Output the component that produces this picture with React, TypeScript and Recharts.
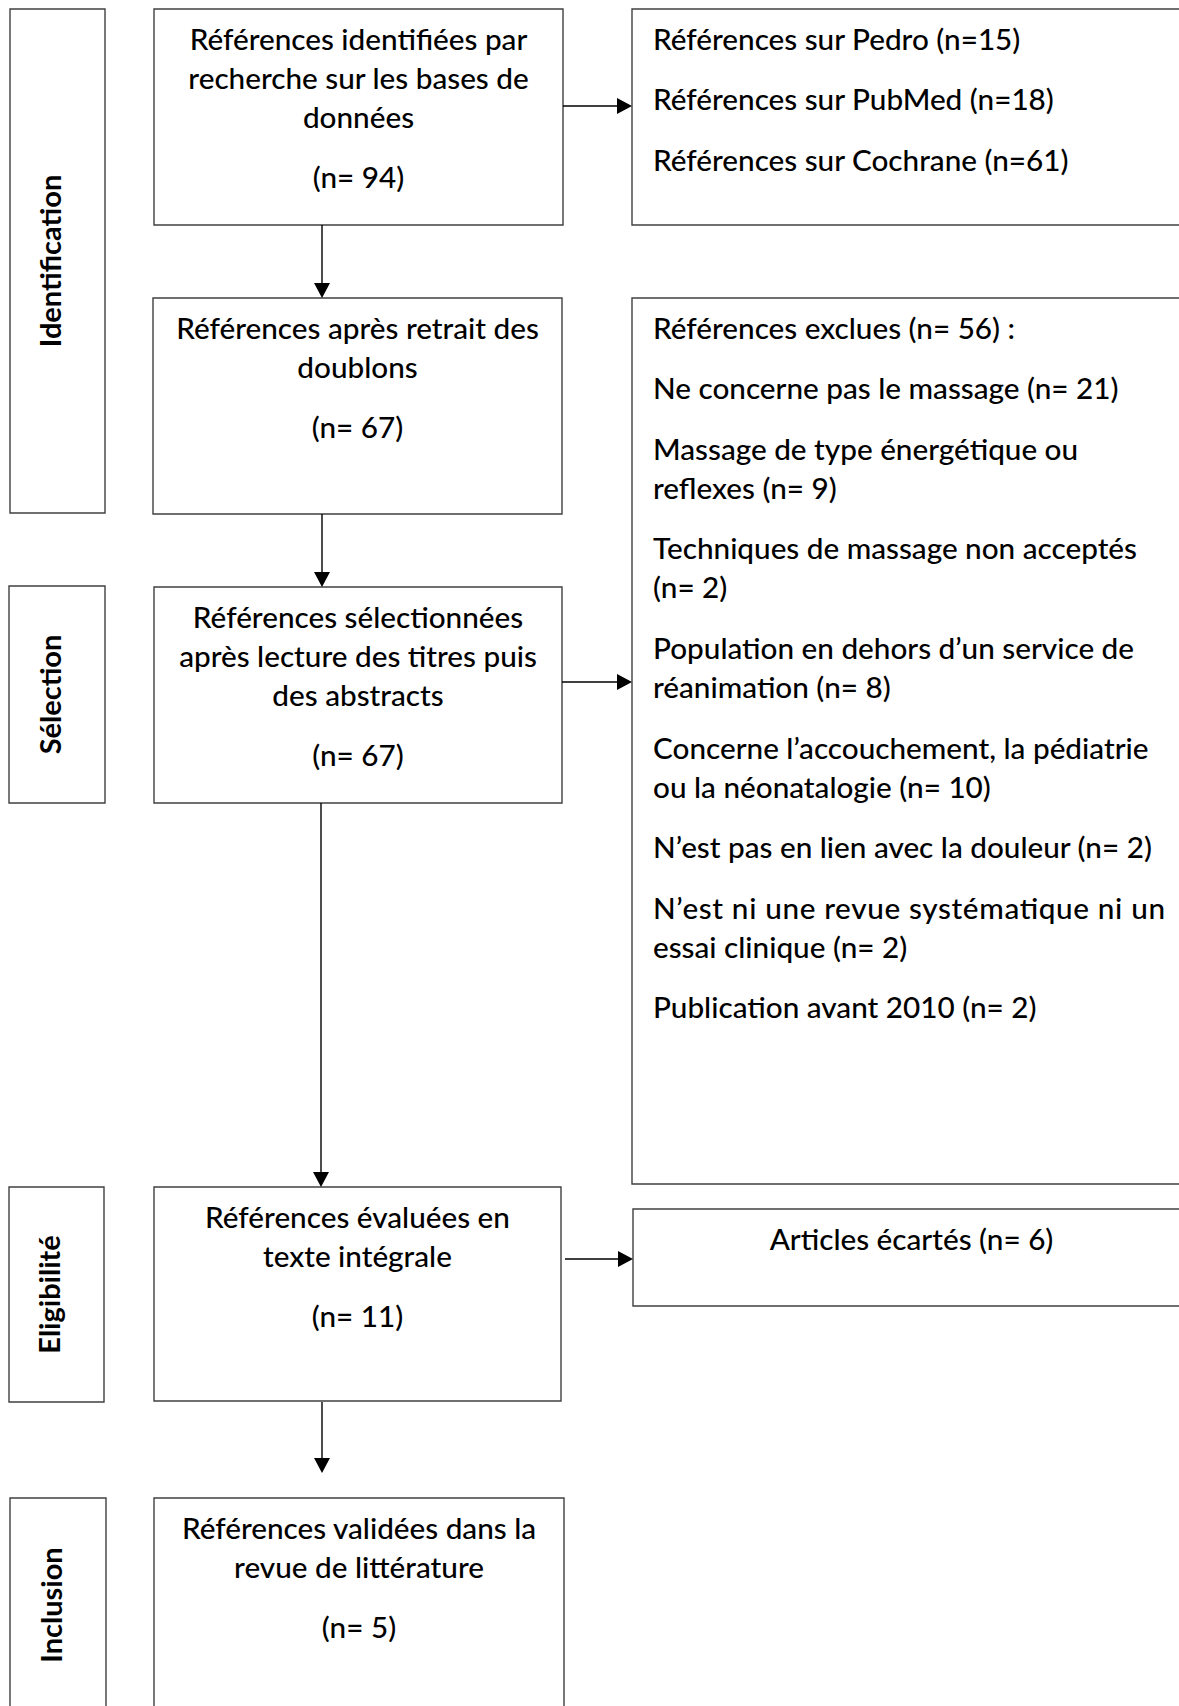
import React from "react";
import { ComposedChart, ReferenceArea, ReferenceLine, XAxis, YAxis } from "recharts";

const W = 1179;
const H = 1706;
const FONT = "Lato, 'Open Sans', sans-serif";

// stage labels on the left, top to bottom
const stages = ["Identification", "Sélection", "Eligibilité", "Inclusion"];

// main column: each box is a list of paragraphs, each paragraph a list of lines
const mainBoxes = [
  [["Références identifiées par", "recherche sur les bases de", "données"], ["(n= 94)"]],
  [["Références après retrait des", "doublons"], ["(n= 67)"]],
  [["Références sélectionnées", "après lecture des titres puis", "des abstracts"], ["(n= 67)"]],
  [["Références évaluées en", "texte intégrale"], ["(n= 11)"]],
  [["Références validées dans la", "revue de littérature"], ["(n= 5)"]],
];

// right column
const sources = [
  ["Références sur Pedro (n=15)"],
  ["Références sur PubMed (n=18)"],
  ["Références sur Cochrane (n=61)"],
];

const exclusions = [
  ["Références exclues (n= 56) :"],
  ["Ne concerne pas le massage (n= 21)"],
  ["Massage de type énergétique ou", "reflexes (n= 9)"],
  ["Techniques de massage non acceptés", "(n= 2)"],
  ["Population en dehors d’un service de", "réanimation (n= 8)"],
  ["Concerne l’accouchement, la pédiatrie", "ou la néonatalogie (n= 10)"],
  ["N’est pas en lien avec la douleur (n= 2)"],
  ["N’est ni une revue systématique ni un", "essai clinique (n= 2)"],
  ["Publication avant 2010 (n= 2)"],
];

const discarded = [["Articles écartés (n= 6)"]];

const sideBoxes = [sources, exclusions, discarded];

// geometry, in the 1179 x 1706 frame: [x1, x2, y1, y2]
const stageRects = [
  [10, 105, 9, 513],
  [9, 105, 586, 803],
  [9, 104, 1187, 1402],
  [10, 106, 1498, 1712],
];
const mainRects = [
  [154, 563, 9, 225],
  [153, 562, 298, 514],
  [154, 562, 587, 803],
  [154, 561, 1187, 1401],
  [154, 564, 1498, 1712],
];
const sideRects = [
  [632, 1190, 9, 225],
  [632, 1190, 298, 1184],
  [633, 1190, 1209, 1306],
];
const sideAlign = ["start", "start", "middle"];

// connectors: [xFrom, yFrom, xTo, yTo]
const arrows = [
  [563, 106, 632, 106],
  [322, 225, 322, 298],
  [322, 514, 322, 587],
  [562, 682, 632, 682],
  [321, 803, 321, 1187],
  [565, 1259, 633, 1259],
  [322, 1402, 322, 1473],
];

const STROKE = "#404040";
const FIRST = 29;
const LINE = 39;
const PARA_GAP = 21.6;
const PAD = 21;

function BoxText(props: any) {
  const { viewBox, paragraphs, align, justify } = props;
  if (!viewBox) return null;
  const { x, y, width } = viewBox;
  const tx = align === "middle" ? x + width / 2 : x + PAD;
  const out: JSX.Element[] = [];
  let off = FIRST;
  paragraphs.forEach((para: string[], pi: number) => {
    para.forEach((line: string, li: number) => {
      const j = justify && justify[0] === pi && justify[1] === li;
      out.push(
        <text
          key={`${pi}-${li}`}
          x={tx}
          y={y + off}
          textAnchor={align}
          dominantBaseline="central"
          fontFamily={FONT}
          fontWeight={500}
          fontSize={29.7}
          fill="#000"
          textLength={j ? justify[2] : undefined}
          lengthAdjust={j ? "spacing" : undefined}
        >
          {line}
        </text>
      );
      off += LINE;
    });
    off += PARA_GAP;
  });
  return <g>{out}</g>;
}

function StageLabel(props: any) {
  const { viewBox, text } = props;
  if (!viewBox) return null;
  const cx = viewBox.x + viewBox.width / 2 - 8;
  const cy = viewBox.y + viewBox.height / 2;
  return (
    <text
      x={cx}
      y={cy}
      transform={`rotate(-90 ${cx} ${cy})`}
      textAnchor="middle"
      dominantBaseline="central"
      fontFamily={FONT}
      fontWeight={700}
      fontSize={29}
      fill="#000"
    >
      {text}
    </text>
  );
}

function Arrow(props: any) {
  const { x1, y1, x2, y2 } = props;
  const dx = x2 - x1;
  const dy = y2 - y1;
  const len = Math.hypot(dx, dy) || 1;
  const ux = dx / len;
  const uy = dy / len;
  const head = 15;
  const half = 8;
  const bx = x2 - ux * head;
  const by = y2 - uy * head;
  const pts = `${x2},${y2} ${bx - uy * half},${by + ux * half} ${bx + uy * half},${by - ux * half}`;
  return (
    <g>
      <line x1={x1} y1={y1} x2={bx} y2={by} stroke="#000" strokeWidth={1.4} />
      <polygon points={pts} fill="#000" />
    </g>
  );
}

const boxStyle = { fill: "#fff", fillOpacity: 1, stroke: STROKE, strokeWidth: 1.4 };

export default function App() {
  return (
    <div style={{ width: W, height: H, background: "#fff" }}>
      <style>{"body{margin:0;background:#fff}"}</style>
      <ComposedChart width={W} height={H} margin={{ top: 0, right: 0, bottom: 0, left: 0 }}>
        <XAxis type="number" dataKey="x" domain={[0, W]} allowDataOverflow hide />
        <YAxis type="number" domain={[0, H]} reversed allowDataOverflow hide />
        {stageRects.map((r, i) => (
          <ReferenceArea
            key={`s${i}`}
            x1={r[0]}
            x2={r[1]}
            y1={r[2]}
            y2={r[3]}
            ifOverflow="visible"
            {...boxStyle}
            label={(p: any) => <StageLabel viewBox={p.viewBox} text={stages[i]} />}
          />
        ))}
        {mainRects.map((r, i) => (
          <ReferenceArea
            key={`m${i}`}
            x1={r[0]}
            x2={r[1]}
            y1={r[2]}
            y2={r[3]}
            ifOverflow="visible"
            {...boxStyle}
            label={(p: any) => <BoxText viewBox={p.viewBox} paragraphs={mainBoxes[i]} align="middle" />}
          />
        ))}
        {sideRects.map((r, i) => (
          <ReferenceArea
            key={`r${i}`}
            x1={r[0]}
            x2={r[1]}
            y1={r[2]}
            y2={r[3]}
            ifOverflow="visible"
            {...boxStyle}
            label={(p: any) => (
              <BoxText
                viewBox={p.viewBox}
                paragraphs={sideBoxes[i]}
                align={sideAlign[i]}
                justify={i === 1 ? [7, 0, 512] : undefined}
              />
            )}
          />
        ))}
        {arrows.map((a, i) => (
          <ReferenceLine
            key={`a${i}`}
            segment={[
              { x: a[0], y: a[1] },
              { x: a[2], y: a[3] },
            ]}
            ifOverflow="visible"
            shape={Arrow}
          />
        ))}
      </ComposedChart>
    </div>
  );
}
